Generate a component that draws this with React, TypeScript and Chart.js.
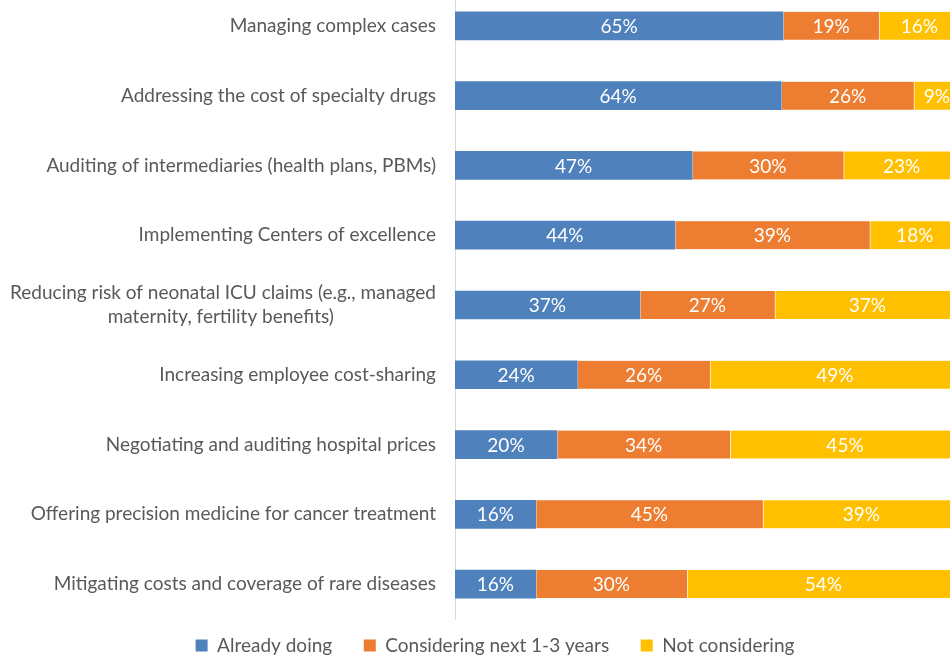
import React, { useEffect, useRef } from "react";
import { Chart, registerables } from "chart.js";

Chart.register(...registerables);

const categories: (string | string[])[] = [
  "Managing complex cases",
  "Addressing the cost of specialty drugs",
  "Auditing of intermediaries (health plans, PBMs)",
  "Implementing Centers of excellence",
  ["Reducing risk of neonatal ICU claims (e.g., managed", "maternity, fertility benefits)"],
  "Increasing employee cost-sharing",
  "Negotiating and auditing hospital prices",
  "Offering precision medicine for cancer treatment",
  "Mitigating costs and coverage of rare diseases",
];

const alreadyDoing = [65, 64, 47, 44, 37, 24, 20, 16, 16];
const consideringNext = [19, 26, 30, 39, 27, 26, 34, 45, 30];
const notConsidering = [16, 9, 23, 18, 37, 49, 45, 39, 54];

const seriesNames = ["Already doing", "Considering next 1-3 years", "Not considering"];
const seriesColors = ["#4F81BD", "#ED7D31", "#FFC000"];

const FONT = "Lato, 'Open Sans', sans-serif";
const FS = 19;

export default function App() {
  const ref = useRef<HTMLCanvasElement | null>(null);

  useEffect(() => {
    const canvas = ref.current;
    if (!canvas) return;
    const raw = [alreadyDoing, consideringNext, notConsidering];
    const totals = alreadyDoing.map((_, i) => raw.reduce((s, a) => s + a[i], 0));

    // center wrapped second line under the first (right aligned ticks)
    const mctx = document.createElement("canvas").getContext("2d")!;
    mctx.font = `${FS}px ${FONT}`;
    const labels = categories.map((c) => {
      if (Array.isArray(c)) {
        const w0 = mctx.measureText(c[0]).width;
        return c.map((line, k) => {
          if (k === 0) return line;
          const w = mctx.measureText(line).width;
          const sp = mctx.measureText("\u00A0").width || 4;
          const n = Math.max(0, Math.round((w0 - w) / 2 / sp));
          return line + "\u00A0".repeat(n);
        });
      }
      return c;
    });

    const valueLabels = {
      id: "valueLabels",
      afterDatasetsDraw(chart: any) {
        const ctx = chart.ctx;
        ctx.save();
        ctx.font = `${FS}px ${FONT}`;
        ctx.fillStyle = "#FFFFFF";
        ctx.textAlign = "center";
        ctx.textBaseline = "middle";
        chart.data.datasets.forEach((ds: any, di: number) => {
          const meta = chart.getDatasetMeta(di);
          meta.data.forEach((bar: any, i: number) => {
            const cx = (bar.x + bar.base) / 2;
            ctx.fillText(raw[di][i] + "%", cx, bar.y + 1);
          });
        });
        ctx.restore();
      },
    };

    const chart = new Chart(canvas, {
      type: "bar",
      data: {
        labels,
        datasets: raw.map((arr, di) => ({
          label: seriesNames[di],
          data: arr.map((v, i) => (v / totals[i]) * 100),
          backgroundColor: seriesColors[di],
          borderColor: "rgba(255,255,255,0.6)",
          borderWidth: { left: di === 0 ? 0 : 1, right: 0, top: 0, bottom: 0 } as any,
          borderSkipped: false,
          barThickness: 28,
        })),
      },
      options: {
        indexAxis: "y",
        animation: false,
        responsive: false,
        maintainAspectRatio: false,
        layout: { padding: { left: 0, right: 10, top: 10, bottom: 17 } },
        scales: {
          x: { stacked: true, display: false, min: 0, max: 106 },
          y: {
            stacked: true,
            grid: { display: false, drawTicks: false },
            border: { display: true, color: "#D9D9D9", width: 1 },
            ticks: {
              color: "#595959",
              padding: 19,
              font: { family: FONT, size: FS, lineHeight: 1.26 },
              autoSkip: false,
            },
            afterFit(scale: any) {
              scale.width = 455;
            },
          },
        },
        plugins: {
          legend: {
            position: "bottom",
            labels: {
              color: "#595959",
              font: { family: FONT, size: FS },
              boxWidth: 12,
              boxHeight: 12,
              padding: 17,
              generateLabels(chart: any) {
                const items = Chart.defaults.plugins.legend.labels.generateLabels(chart);
                return items.map((it: any, k: number) => ({
                  ...it,
                  text: k < items.length - 1 ? it.text + "\u00A0\u00A0\u00A0" : it.text,
                  strokeStyle: it.fillStyle,
                  lineWidth: 0,
                }));
              },
            },
          },
          tooltip: { enabled: false },
        },
      },
      plugins: [valueLabels],
    });
    return () => chart.destroy();
  }, []);

  return (
    <div style={{ position: "fixed", left: 0, top: 0, width: 950, height: 658, overflow: "hidden", background: "#fff" }}>
      <canvas ref={ref} width={1000} height={722} style={{ position: "absolute", left: 0, top: -40, width: 1000, height: 722 }} />
    </div>
  );
}
